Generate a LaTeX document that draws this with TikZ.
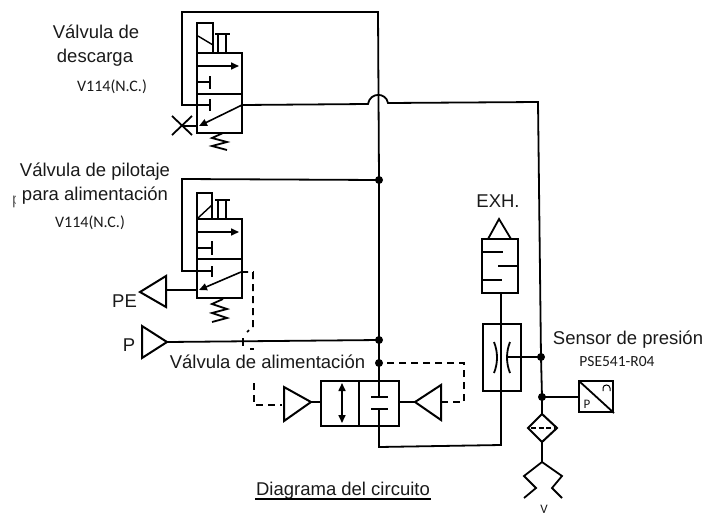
\documentclass[tikz,border=0pt]{standalone}
\usepackage{fontspec}
\setmainfont{Liberation Sans}
\newfontfamily\smallfam{Carlito}
\usetikzlibrary{arrows.meta}
\definecolor{ink}{HTML}{1A1A1A}
\tikzset{
  pipe/.style={line width=1.8pt,draw=black,line join=miter},
  body/.style={line width=2pt,draw=black,line join=miter},
  thin pipe/.style={line width=1.4pt,draw=black},
  pilot/.style={line width=1.7pt,draw=black,dash pattern=on 7pt off 5pt},
  flow/.style={line width=1.6pt,draw=black,-{Triangle[length=8pt,width=7pt]}},
  both flow/.style={line width=1.6pt,draw=black,{Triangle[length=8pt,width=7pt]}-{Triangle[length=8pt,width=7pt]}},
  label/.style={font=\fontsize{18.5}{22}\selectfont,text=ink,inner sep=0pt,align=center},
  part/.style={font=\smallfam\fontsize{16}{18}\selectfont,text=ink,inner sep=0pt},
}
\begin{document}
\begin{tikzpicture}[x=1pt,y=-1pt]
\useasboundingbox (0,0) rectangle (706,517);
% Junctions
\coordinate (jA) at (379,180);
\coordinate (jB) at (379,340);
\coordinate (jC) at (379,363);
\coordinate (jD) at (541,357);
\coordinate (jE) at (542,397);
% Main vertical pipe and feedback loops
\draw[pipe] (210,105) -- (182,105) -- (182,12) -- (378,12) -- (jA) -- (jB) -- (jC) -- (379,396);
\draw[pipe] (212,271) -- (182,271) -- (182,179) -- (jA);
\draw[pipe] (242,105) -- (368,104) .. controls (370,92) and (386,92) .. (388,103) -- (538,102) -- (jD) -- (jE) -- (542,414);
\draw[pipe] (167,342) -- (jB);
% Valve 1
\draw[body] (197,53) rectangle (242,133);
\draw[body] (197,94) -- (242,94);
\draw[body] (197,23) rectangle (213,53);
\draw[thin pipe] (198,36) -- (213,45);
\draw[pipe] (215,34) -- (230,34) (218,34) -- (218,53) (226,34) -- (226,53);
\draw[flow] (197,66) -- (239,66);
\draw[pipe] (197,82) -- (210,82) (210,76) -- (210,89);
\draw[pipe] (210,99) -- (210,111);
\draw[flow] (242,105) -- (199,126);
\draw[pipe] (182,126) -- (197,126);
\draw[pipe] (172,116) -- (192,135) (172,135) -- (192,116);
\draw[pipe] (223,133) -- (212,138) -- (227,142) -- (212,146) -- (227,150);
% Valve 2
\draw[body] (197,219) rectangle (242,298);
\draw[body] (197,259) -- (242,259);
\draw[body] (197,193) rectangle (212,219);
\draw[thin pipe] (198,218) -- (212,205);
\draw[pipe] (215,200) -- (230,200) (218,200) -- (218,219) (226,200) -- (226,219);
\draw[flow] (197,232) -- (239,232);
\draw[pipe] (197,248) -- (212,248) (212,241) -- (212,255);
\draw[pipe] (212,266) -- (212,277);
\draw[flow] (241,272) -- (199,290);
\draw[pipe] (223,299) -- (212,304) -- (227,309) -- (212,313) -- (227,318) -- (212,322);
% PE and P triangles
\draw[body] (166,276) -- (140,292) -- (166,307) -- cycle;
\draw[pipe] (166,290) -- (197,290);
\draw[body] (142,326) -- (167,342) -- (142,358) -- cycle;
% Pilot dashed line
\draw[pilot] (241,272) -- (253,272) -- (253,327) -- (247,332);
\draw[line width=1.4pt] (243,338) -- (243,346);
\draw[line width=2pt] (250,349) -- (254,349);
\draw[pilot] (254,383) -- (254,405) -- (282,405);
% Supply valve
\draw[body] (321,381) rectangle (399,426);
\draw[body] (359,381) -- (359,426);
\draw[both flow] (342,383) -- (342,423);
\draw[pipe] (371,397) -- (388,397) (371,409) -- (388,409);
\draw[pipe] (379,409) -- (379,447) -- (501,445) -- (501,293);
\draw[body] (284,387) -- (311,402) -- (284,421) -- cycle;
\draw[pipe] (311,402) -- (321,402);
\draw[body] (441,385) -- (415,402) -- (441,420) -- cycle;
\draw[pipe] (399,402) -- (415,402);
\draw[pilot] (441,402) -- (464,402) -- (464,363) -- (jC);
% Exhaust
\draw[body] (482,239) rectangle (518,293);
\draw[pipe] (488,239) -- (499,219) -- (511,239);
\draw[pipe] (482,252) -- (503,252) (498,266) -- (518,266) (482,280) -- (502,280);
% Throttle
\draw[body] (483,324) rectangle (521,391);
\draw[pipe] (494,342) .. controls (498,352) and (498,363) .. (494,373);
\draw[pipe] (510,342) .. controls (506,352) and (506,363) .. (510,373);
\draw[pipe] (507,357) -- (jD);
% Sensor
\draw[body] (579,381) rectangle (613,412);
\draw[pipe] (579,381) -- (614,413);
\draw[pipe] (jE) -- (579,397);
\draw[line width=1pt] (603,391) -- (603,388) .. controls (603,384) and (610,384) .. (610,388) -- (610,391);
% Filter and silencer
\draw[body] (542,414) -- (557,428) -- (542,442) -- (528,428) -- cycle;
\draw[line width=1.6pt,dash pattern=on 5pt off 2.5pt] (531,428) -- (555,428);
\draw[pipe] (542,442) -- (542,462);
\draw[pipe] (524,498) -- (536,488) -- (524,476) -- (542,462) -- (562,476) -- (552,488) -- (562,498);
% Junction dots
\foreach \j in {jA,jB,jC,jD,jE} \fill (\j) circle (4pt);
% Texts
\node[label] (t1) at (96,32) {Válvula de};
\node[label] (t1b) at (95,58) {descarga};
\node[part] (t2) at (112,87) {V114(N.C.)};
\node[label] (t3) at (95,172) {Válvula de pilotaje};
\node[label] (t4) at (95,196) {para alimentación};
\begin{scope}
\clip (10,190) rectangle (15.5,212);
\node[anchor=base west,inner sep=0pt,text=ink!70,font=\fontsize{16}{18}\selectfont] (t4b) at (12,204) {p};
\end{scope}
\node[part] (t5) at (90,223) {V114(N.C.)};
\node[label] (t6) at (124.5,301) {PE};
\node[label] (t7) at (129,345) {P};
\node[label,fill=white,inner xsep=1pt] (t8) at (267.5,362) {Válvula de alimentación};
\node[label] (t9) at (498,201) {EXH.};
\node[label] (t10) at (628,340) {Sensor de presión};
\node[part,font=\smallfam\fontsize{15.5}{18}\selectfont] (t11) at (617,362) {PSE541-R04};
\node[part,font=\smallfam\fontsize{13}{14}\selectfont] (t12) at (587,404) {P};
\node[label] (t13) at (343,491) {Diagrama del circuito};
\draw[line width=1.5pt] (255,499) -- (431,499);
\node[part,font=\smallfam\fontsize{13}{13}\selectfont] (t14) at (544,509.5) {V};
\end{tikzpicture}
\end{document}
